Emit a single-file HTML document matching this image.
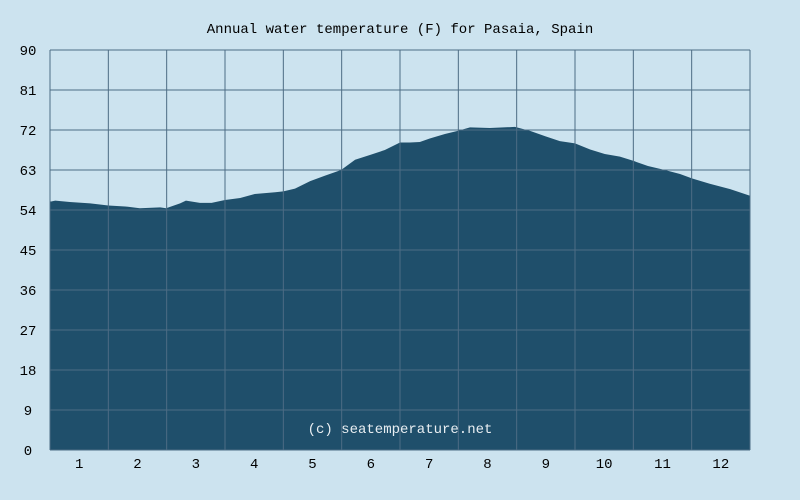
<!DOCTYPE html>
<html><head><meta charset="utf-8"><style>
html,body{margin:0;padding:0;background:#cce3ef;}
svg{display:block;font-family:"Liberation Mono","DejaVu Sans Mono",monospace;}
</style></head><body>
<svg id="chart" width="800" height="500">
<rect x="0" y="0" width="800" height="500" fill="#cce3ef"/>
<text x="400" y="33" text-anchor="middle" font-size="14" fill="#000">Annual water temperature (F) for Pasaia, Spain</text>
<g id="area"></g><g id="grid"></g><g id="labels"></g>
<text x="400" y="433" text-anchor="middle" font-size="14" fill="#e8eef2">(c) seatemperature.net</text>
</svg>
<script>
const monthPos = [0.02,0.09,0.34,0.69,1.0,1.29,1.54,1.89,1.99,2.23,2.33,2.57,2.77,3.0,3.26,3.51,3.86,4.0,4.2,4.46,4.71,4.99,5.23,5.49,5.74,6.0,6.17,6.34,6.51,6.77,6.99,7.2,7.54,7.97,8.23,8.49,8.74,9.0,9.26,9.51,9.77,9.99,10.25,10.54,10.8,11.01,11.31,11.66,12.0];
const temps = [55.9,56.1,55.8,55.5,55.0,54.8,54.4,54.6,54.4,55.5,56.1,55.6,55.6,56.25,56.7,57.6,58.0,58.2,58.8,60.5,61.7,63.0,65.3,66.4,67.5,69.2,69.2,69.3,70.1,71.1,71.8,72.6,72.45,72.7,71.8,70.6,69.5,69.0,67.6,66.6,66.0,65.1,63.9,63.0,62.1,61.1,59.9,58.7,57.2];
const yTicks = [0,9,18,27,36,45,54,63,72,81,90];
const xLabels = ["1","2","3","4","5","6","7","8","9","10","11","12"];
const L=50,R=750,T=50,B=450;
const xs=m=>L+m*(R-L)/12, ys=v=>B-v*(B-T)/90;
const ns="http://www.w3.org/2000/svg";
function mk(tag,attrs,parent){const e=document.createElementNS(ns,tag);for(const k in attrs)e.setAttribute(k,attrs[k]);parent.appendChild(e);return e;}
const area=document.getElementById('area'),grid=document.getElementById('grid'),labels=document.getElementById('labels');
let d=`M${xs(0)},${B} L${xs(0)},${ys(temps[0])}`;
monthPos.forEach((m,i)=>{d+=` L${xs(m)},${ys(temps[i])}`;});
d+=` L${xs(12)},${ys(temps[temps.length-1])} L${xs(12)},${B} Z`;
const p=mk('path',{d:d,fill:'#1f4f6b'},area);


yTicks.forEach(v=>{
  const l=mk('line',{x1:L,x2:R,y1:ys(v),y2:ys(v),stroke:'#4d6c84','stroke-width':1},grid);
  
  
  const t=mk('text',{x:28,y:ys(v)+5,'text-anchor':'middle','font-size':14,fill:'#000'},labels);
  t.textContent=v;
  
  
});
for(let i=0;i<=12;i++){
  const l=mk('line',{x1:xs(i),x2:xs(i),y1:T,y2:B,stroke:'#4d6c84','stroke-width':1},grid);
  
  
}
xLabels.forEach((s,i)=>{
  const t=mk('text',{x:xs(i+0.5),y:468,'text-anchor':'middle','font-size':14,fill:'#000'},labels);
  t.textContent=s;
  
  
});
</script>
</body></html>
